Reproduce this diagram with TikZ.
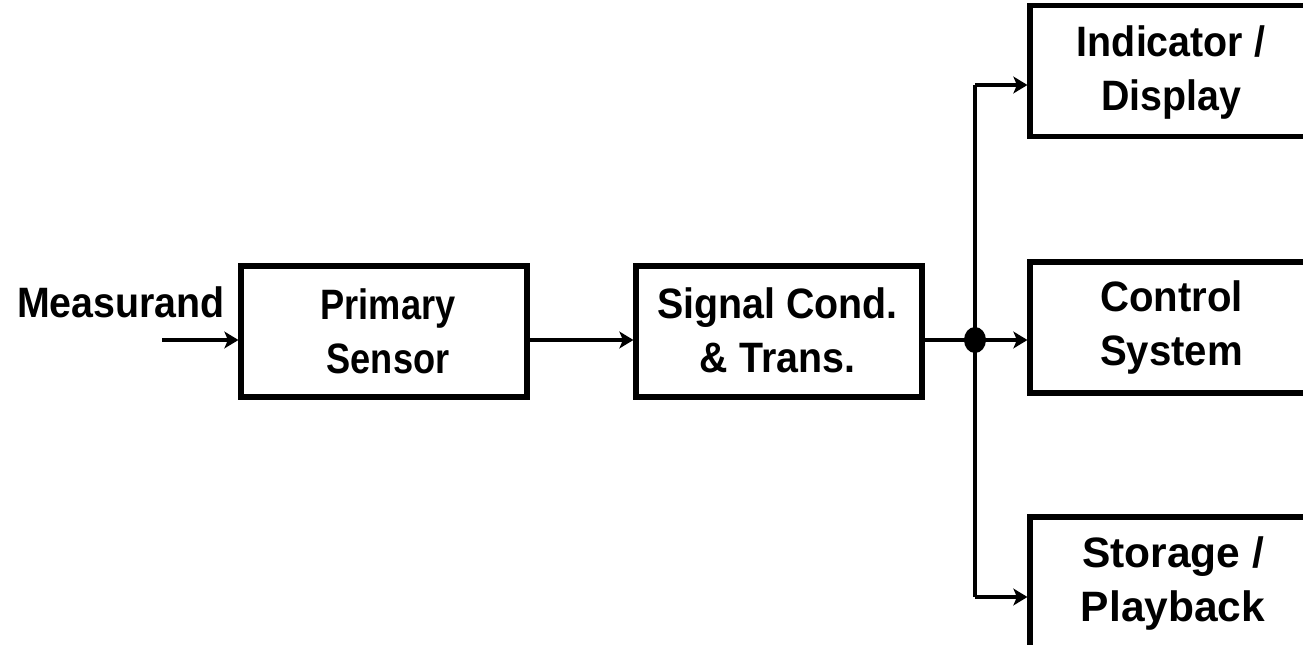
\documentclass[tikz,border=0pt]{standalone}
\usepackage{fontspec}
\usepackage{graphicx}
\setmainfont{Liberation Sans}
\usetikzlibrary{arrows.meta,calc}

% two centred lines of bold text: line distance, horizontal stretch, lines
\newcommand{\blocktext}[4]{%
  \scalebox{#2}[1.08]{\fontsize{22.4pt}{#1}\selectfont\bfseries
    \begin{tabular}{@{}c@{}}#3\\#4\end{tabular}}}

\tikzset{
  blk/.style={draw, line width=2.9pt, minimum width=5.72cm, minimum height=2.62cm,
    inner sep=0pt},
  txt/.style={inner sep=0pt},
  lbl/.style={inner sep=0pt, font=\fontsize{22.4pt}{28pt}\selectfont\bfseries},
  wire/.style={line width=2.5pt},
  flow/.style={wire, -{Stealth[length=8pt,width=9.5pt,inset=2pt]}},
}

\begin{document}
\begin{tikzpicture}[x=0.02cm, y=-0.02cm]
  \clip (0,0) rectangle (1303,645);
  \fill[white] (0,0) rectangle (1303,645);

  % processing chain
  \node[blk] (prim) at (384,331.5) {};
  \node[blk] (sig)  at (779,331.5) {};

  % output devices (extending past the frame)
  \node[blk] (ind) at (1173,71)    {};
  \node[blk] (ctl) at (1173,327.5) {};
  \node[blk] (sto) at (1173,582.5) {};

  % block captions
  \node[txt] (primt) at (388,336)    {\blocktext{28.6pt}{0.92}{Primary}{Sensor}};
  \node[txt] (sigt)  at (777.5,334.5){\blocktext{28.3pt}{1.0}{Signal Cond.}{\& Trans.}};
  \node[txt] (indt)  at (1171,73)    {\blocktext{28.6pt}{1.0}{Indicator /}{Display}};
  \node[txt] (ctlt)  at (1171.5,327.5) {\blocktext{28.3pt}{1.02}{Control}{System}};
  \node[txt] (stot)  at (1173,584)   {\blocktext{28.3pt}{1.08}{Storage /}{Playback}};

  % input label
  \node[lbl, anchor=base] (meas) at (121,318) {\scalebox{1}[1.08]{Measurand}};

  % routing points
  \coordinate (m)  at (162,340);
  \coordinate (j)  at (975,340);
  \coordinate (jt) at (975,85);
  \coordinate (jb) at (975,597);

  % connectors
  \draw[flow] (m) -- (m -| prim.west);
  \draw[flow] (prim.east |- j) -- (sig.west |- j);
  \draw[wire] (sig.east |- j) -- (j);
  \draw[wire] (jt) -- (jb);
  \draw[flow] (j) -- (j -| ctl.west);
  \draw[flow] (jt) -- (jt -| ind.west);
  \draw[flow] (jb) -- (jb -| sto.west);

  % branch dot
  \fill (j) ellipse [x radius=11, y radius=13];
\end{tikzpicture}
\end{document}
